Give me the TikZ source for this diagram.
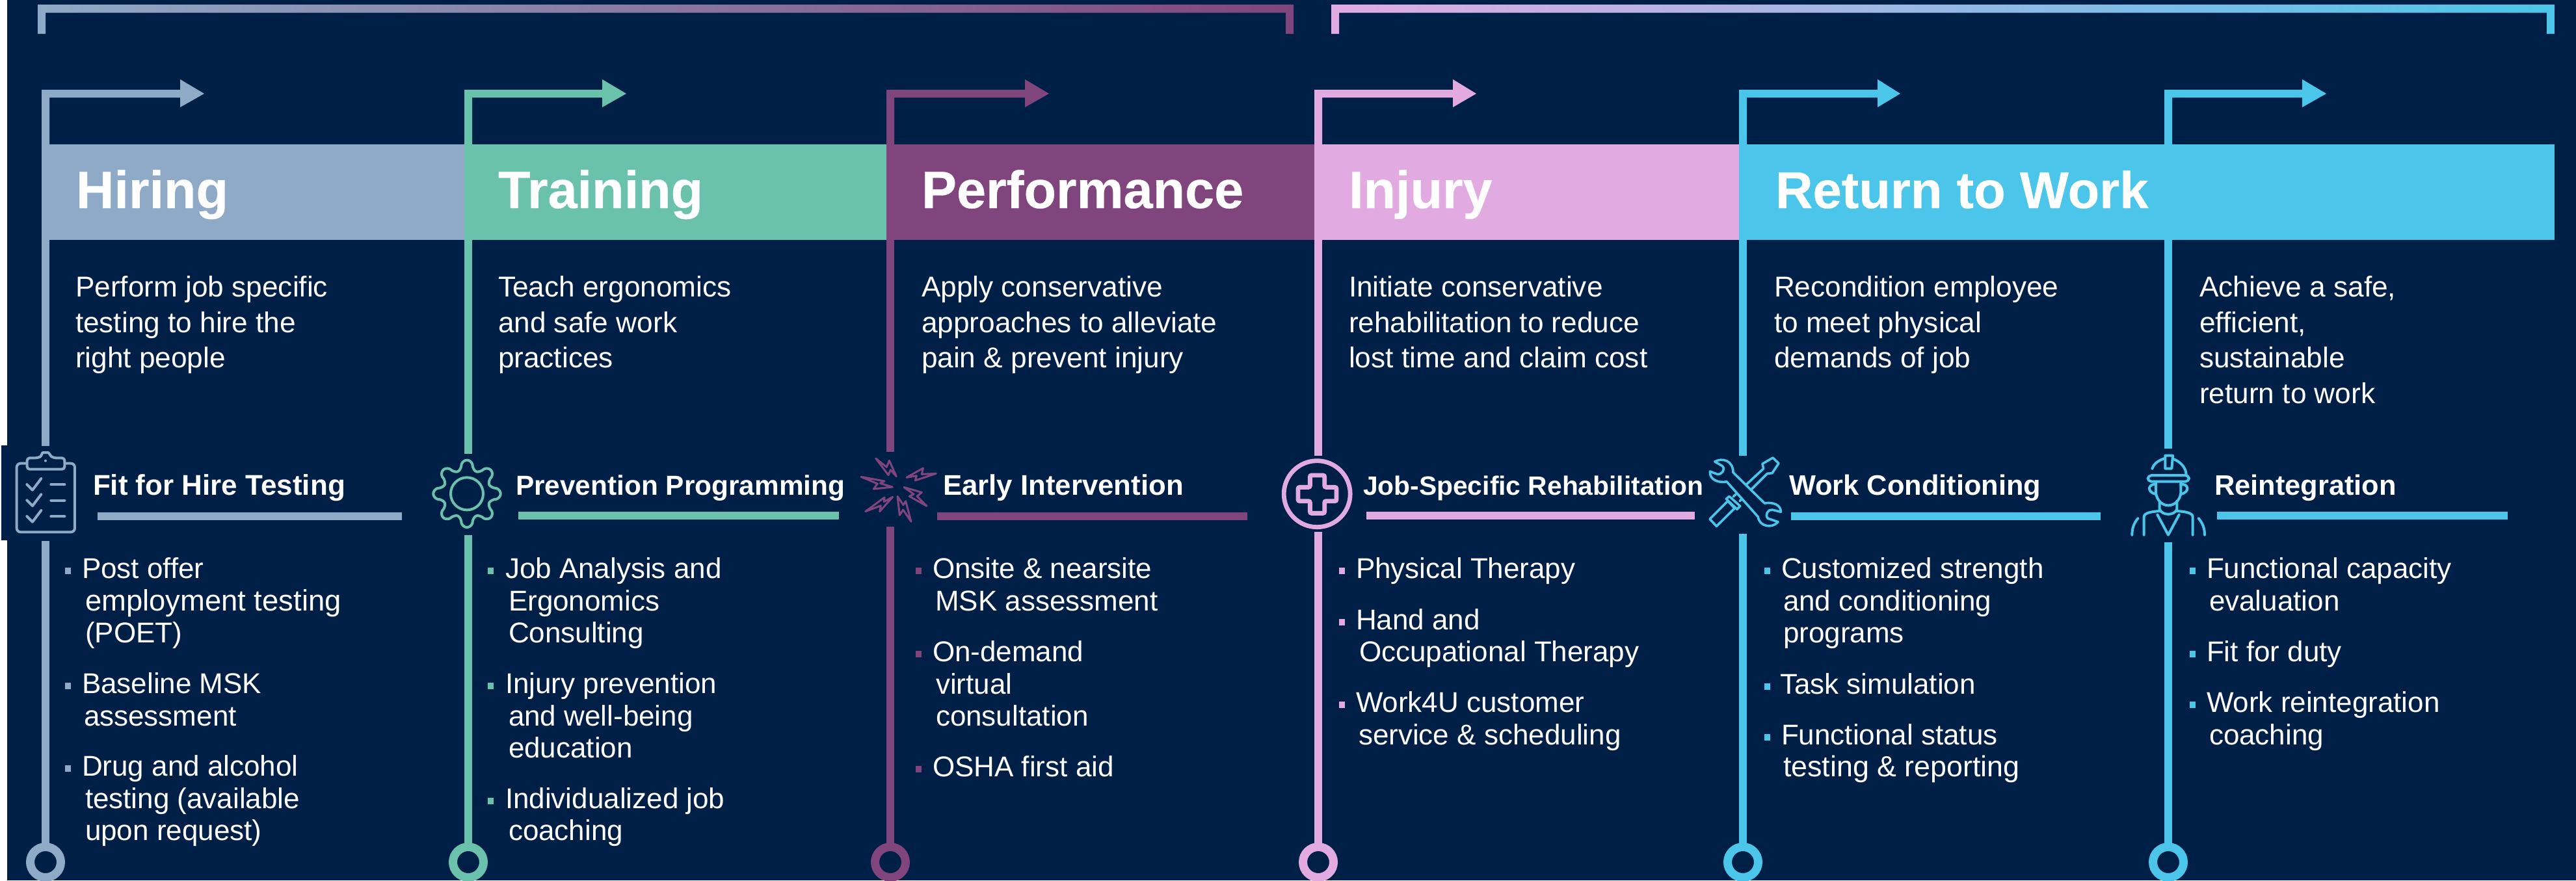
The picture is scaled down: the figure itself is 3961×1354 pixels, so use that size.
\documentclass[tikz,border=0pt]{standalone}
\usepackage{fontspec}
\setmainfont{Liberation Sans}
\definecolor{navy}{HTML}{001F47}
\definecolor{hirec}{HTML}{8FAAC6}
\definecolor{trainc}{HTML}{6BC2AC}
\definecolor{perfc}{HTML}{81457D}
\definecolor{injc}{HTML}{E1ABE2}
\definecolor{rtwc}{HTML}{4BC5E9}
\newfontfamily\heavyfont[BoldFont={Liberation Sans Bold},BoldFeatures={FakeBold=0.35}]{Liberation Sans}
\tikzset{
  txt/.style={anchor=base west,inner sep=0pt,outer sep=0pt,text=white},
  headtxt/.style={txt,font=\heavyfont\fontsize{#1}{24}\selectfont\bfseries},
  headtxt/.default=20.25,
  subtxt/.style={txt,font=\fontsize{#1}{12}\selectfont\bfseries},
  desctxt/.style={txt,font=\fontsize{11.05}{13}\selectfont},
  bodytxt/.style={txt,font=\fontsize{11}{13}\selectfont},
  iconline/.style={line width=1pt,line cap=round,line join=round},
  ring/.style={circle,draw=#1,line width=3.25pt,minimum size=11.75pt,inner sep=0pt,outer sep=0pt},
  zoomed/.style 2 args={shift={(#1,#2)},x=0.0833333pt,y=-0.0833333pt},
}
\newcounter{tn}
\newcommand{\li}[3]{\stepcounter{tn}\node[bodytxt] (t\arabic{tn}) at (#1,#2) {#3};}
\newcommand{\bu}[3]{\fill[#3] (#1,#2-16) rectangle (#1+9,#2-6);}
\begin{document}
\begin{tikzpicture}[x=0.25pt,y=-0.25pt]
\useasboundingbox (0,0) rectangle (3961,1354);
\clip (0,0) rectangle (3961,1354);
\fill[white] (0,0) rectangle (3961,1354);
\fill[navy] (11,0) rectangle (3961,1354);
\fill[navy] (2,685) rectangle (11,831);

% top brackets
\shade[left color=hirec,middle color=trainc,right color=perfc]
  (58,7)--(1989,7)--(1989,52)--(1977,52)--(1977,19.5)--(70,19.5)--(70,52)--(58,52)--cycle;
\shade[left color=injc,right color=rtwc]
  (2047,7)--(3928,7)--(3928,52)--(3916,52)--(3916,19.5)--(2059,19.5)--(2059,52)--(2047,52)--cycle;

% header bands
\fill[hirec] (64,222) rectangle (714,369);
\fill[trainc] (714,222) rectangle (1363,369);
\fill[perfc] (1363,222) rectangle (2021,369);
\fill[injc] (2021,222) rectangle (2674,369);
\fill[rtwc] (2674,222) rectangle (3928,369);

% elbow arrows, stems and end rings
\foreach \n/\cx/\base/\tip/\gt/\gb/\col in {
  1/70/277/314/686/832/hirec,
  2/720/926/963/698/823/trainc,
  3/1369/1576/1613/695/810/perfc,
  4/2027/2234/2270/701/818/injc,
  5/2680/2887/2922/701/821/rtwc,
  6/3334/3540/3577/690/834/rtwc}{
  \fill[\col] (\cx-6,222)--(\cx-6,138)--(\base,138)--(\base,122)--(\tip,144)--(\base,165)--(\base,150)--(\cx+6,150)--(\cx+6,222)--cycle;
  \node[ring=\col] (end\n) at (\cx,1326) {};
  \coordinate (gt\n) at (\cx,\gt);
  \coordinate (gb\n) at (\cx,\gb);
  \coordinate (hb\n) at (\cx,369);
  \draw[\col,line width=3pt] (hb\n)--(gt\n);
  \draw[\col,line width=3pt] (gb\n)--(end\n.north);
}

% headers
\node[headtxt] (h1) at (117,320) {Hiring};
\node[headtxt] (h2) at (766,320) {Training};
\node[headtxt] (h3) at (1417,320) {Performance};
\node[headtxt] (h4) at (2074,320) {Injury};
\node[headtxt=19.9] (h5) at (2730,320) {Return to Work};

% descriptions
\foreach \n/\x/\y/\s in {
  a/116/456/Perform job specific,b/116/511/testing to hire the,c/116/565/right people,
  d/766/456/Teach ergonomics,e/766/511/and safe work,f/766/565/practices,
  g/1417/456/Apply conservative,h/1417/511/approaches to alleviate,i/1417/565/pain \& prevent injury,
  j/2074/456/Initiate conservative,k/2074/511/rehabilitation to reduce,l/2074/565/lost time and claim cost,
  m/2728/456/Recondition employee,n/2728/511/to meet physical,o/2728/565/demands of job,
  p/3382/456/{Achieve a safe,},q/3382/511/{efficient,},r/3382/565/sustainable,s/3382/620/return to work}{
  \node[desctxt] (d\n) at (\x,\y) {\s};
}

% sub-headings and rules
\node[subtxt=11] (s1) at (143,761) {Fit for Hire Testing};
\node[subtxt=10.6] (s2) at (793,761) {Prevention Programming};
\node[subtxt=10.95] (s3) at (1450,761) {Early Intervention};
\node[subtxt=10.2] (s4) at (2096,761) {Job-Specific Rehabilitation};
\node[subtxt=10.85] (s5) at (2751,761) {Work Conditioning};
\node[subtxt=10.85] (s6) at (3405,761) {Reintegration};
\fill[hirec] (150,788) rectangle (618,800);
\fill[trainc] (797,787) rectangle (1290,799);
\fill[perfc] (1441,788) rectangle (1918,800);
\fill[injc] (2101,787) rectangle (2606,799);
\fill[rtwc] (2754,788) rectangle (3230,800);
\fill[rtwc] (3409,787) rectangle (3856,799);

% column 1
\bu{100}{889}{hirec}\li{126}{889}{Post offer}\li{131}{939}{\fontsize{11.35}{13}\selectfont employment testing}\li{131}{988}{(POET)}
\bu{100}{1066}{hirec}\li{126}{1066}{Baseline MSK}\li{129}{1116}{assessment}
\bu{100}{1193}{hirec}\li{126}{1193}{Drug and alcohol}\li{131}{1243}{testing (available}\li{131}{1292}{upon request)}
% column 2
\bu{750}{889}{trainc}\li{777}{889}{Job Analysis and}\li{782}{939}{Ergonomics}\li{782}{988}{Consulting}
\bu{750}{1066}{trainc}\li{777}{1066}{Injury prevention}\li{782}{1116}{and well-being}\li{782}{1165}{education}
\bu{750}{1243}{trainc}\li{777}{1243}{Individualized job}\li{782}{1292}{coaching}
% column 3
\bu{1408}{889}{perfc}\li{1434}{889}{Onsite \& nearsite}\li{1438}{939}{MSK assessment}
\bu{1408}{1017}{perfc}\li{1434}{1017}{On-demand}\li{1439}{1067}{virtual}\li{1439}{1116}{consultation}
\bu{1408}{1194}{perfc}\li{1434}{1194}{OSHA first aid}
% column 4
\bu{2059}{889}{injc}\li{2085}{889}{Physical Therapy}
\bu{2059}{968}{injc}\li{2085}{968}{Hand and}\li{2090}{1017}{Occupational Therapy}
\bu{2059}{1095}{injc}\li{2085}{1095}{Work4U customer}\li{2089}{1145}{service \& scheduling}
% column 5
\bu{2713}{889}{rtwc}\li{2739}{889}{Customized strength}\li{2742}{939}{and conditioning}\li{2742}{988}{programs}
\bu{2713}{1067}{rtwc}\li{2737}{1067}{Task simulation}
\bu{2713}{1145}{rtwc}\li{2739}{1145}{Functional status}\li{2742}{1194}{\fontsize{11.2}{13}\selectfont testing \& reporting}
% column 6
\bu{3367}{889}{rtwc}\li{3393}{889}{Functional capacity}\li{3397}{939}{evaluation}
\bu{3367}{1017}{rtwc}\li{3393}{1017}{Fit for duty}
\bu{3367}{1095}{rtwc}\li{3393}{1095}{Work reintegration}\li{3397}{1145}{coaching}

% clipboard icon
\begin{scope}[zoomed={0}{670},hirec,iconline]
  \draw[rounded corners=1.5pt] (122,128)--(77,128)--(77,445)--(345,445)--(345,128)--(302,128);
  \draw[rounded corners=1pt] (125,155)--(125,103)--(175,103) .. controls (190,95) and (195,78) .. (210,78) .. controls (225,78) and (235,95) .. (247,103)--(298,103)--(298,155)--cycle;
  \fill (210,116) circle [radius=6];
  \foreach \d in {0,73,147}{
    \draw[yshift={-\d*0.0833333pt}] (124,225)--(150,251)--(190,198);
    \draw (235,226+\d)--(298,226+\d);
  }
\end{scope}

% gear icon
\begin{scope}[zoomed={650}{680},trainc,iconline]
  \draw (204,238) circle [radius=75];
  \draw plot[domain=0:360,samples=241] ({204+(133+22*sign(cos(8*\x))*abs(cos(8*\x))^0.65)*cos(\x)},{238+(133+22*sign(cos(8*\x))*abs(cos(8*\x))^0.65)*sin(\x)})--cycle;
\end{scope}

% lightning icon
\begin{scope}[zoomed={1310}{680},perfc,iconline,line width=0.75pt]
  \draw (110,75)--(160,115)--(172,85)--(205,158)--(178,128)--(168,152)--cycle;
  \draw (252,163)--(328,120)--(322,148)--(388,145)--(292,177)--(298,155)--cycle;
  \draw (42,160)--(150,180)--(130,190)--(187,207)--(100,216)--(118,192)--cycle;
  \draw (240,208)--(322,232)--(300,250)--(345,295)--(265,250)--(285,240)--cycle;
  \draw (210,250)--(237,290)--(248,272)--(273,367)--(236,312)--(220,337)--cycle;
  \draw (188,253)--(128,320)--(133,293)--(62,320)--(150,255)--(148,275)--cycle;
\end{scope}

% cross icon
\begin{scope}[zoomed={1950}{680},injc]
  \draw[line width=1.7pt] (225.5,239) circle [radius=153];
  \draw[line width=1.7pt,rounded corners=0.6pt] (193,153)--(260,153)--(260,208)--(315,208)--(315,272)--(260,272)--(260,328)--(193,328)--(193,272)--(138,272)--(138,208)--(193,208)--cycle;
\end{scope}

% tools icon
\begin{scope}[zoomed={2610}{680},rtwc,iconline,line width=0.9pt]
  \draw (57,355)--(88,388)--(172,305)--(140,272)--cycle;
  \draw[fill=navy] (133,262)--(147,250)--(197,295)--(183,310)--cycle;
  \draw (165,252)--(305,122)--(300,100)--(348,72)--(375,98)--(345,143)--(322,145)--(195,272);
  \draw[fill=navy] (80,90) .. controls (115,70) and (165,85) .. (165,140)--(310,282) .. controls (350,275) and (385,290) .. (385,322)--(345,312) .. controls (325,310) and (310,335) .. (325,352)--(372,368) .. controls (345,400) and (285,390) .. (280,345)--(135,182) .. controls (100,190) and (55,175) .. (58,135)--(92,148) .. controls (115,150) and (130,125) .. (115,110)--cycle;
\end{scope}

% worker icon
\begin{scope}[zoomed={3260}{680},rtwc,iconline]
  \draw (148,122) .. controls (155,100) and (175,85) .. (205,75);
  \draw (245,78) .. controls (280,90) and (305,120) .. (305,152);
  \draw (208,122)--(208,62)--(243,62)--(238,122)--cycle;
  \draw[rounded corners=1.4pt] (128,153)--(318,153)--(318,182)--(128,182)--cycle;
  \draw (165,185)--(165,235) .. controls (170,270) and (195,292) .. (222,292) .. controls (250,292) and (275,270) .. (280,235)--(280,185);
  \draw (165,195) .. controls (130,190) and (120,230) .. (165,240);
  \draw (280,195) .. controls (315,190) and (325,230) .. (280,240);
  \draw (182,272)--(182,310) .. controls (195,340) and (250,340) .. (262,310)--(262,272);
  \draw (110,428)--(110,345) .. controls (110,325) and (150,320) .. (182,318);
  \draw (335,428)--(335,345) .. controls (335,325) and (295,320) .. (262,318);
  \draw (172,335)--(222,428)--(272,335);
  \draw (82,352) .. controls (62,375) and (55,400) .. (55,428);
  \draw (362,352) .. controls (382,375) and (390,400) .. (390,428);
\end{scope}
\end{tikzpicture}
\end{document}
